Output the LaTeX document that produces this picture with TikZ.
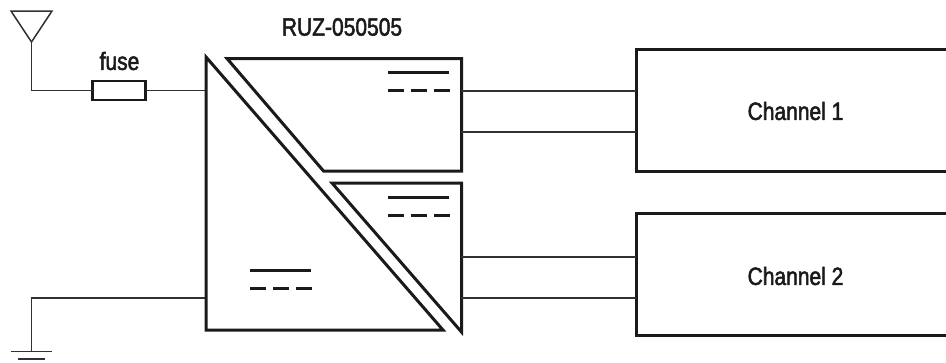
\documentclass[tikz,border=0pt]{standalone}
\usepackage{fontspec}
\setmainfont[FakeStretch=0.84,FakeBold=2]{Liberation Sans}
\definecolor{ink}{HTML}{1A1A1A}
\tikzset{
  thick line/.style={draw=ink,line width=3pt,miter limit=20},
  wire/.style={draw=ink!90!white,line width=1.5pt},
  label/.style={inner sep=0pt,text=ink,font=\fontsize{25}{27}\selectfont},
  bar/.style={draw=ink,line width=3pt},
  dashbar/.style={draw=ink,line width=3pt,dash pattern=on 15.5pt off 7.5pt},
}
\begin{document}
\begin{tikzpicture}[x=1pt,y=-1pt]
\useasboundingbox (0,0) rectangle (946,362);
\clip (0,0) rectangle (946,362);
% named points
\coordinate (antL) at (11,11);
\coordinate (antR) at (52,11);
\coordinate (antT) at (31.5,42);
\coordinate (antC) at (31.5,90.5);
\coordinate (inL) at (206,90.5);
\coordinate (gndL) at (206,298);
\coordinate (gndC) at (31.5,298);
\coordinate (gndT) at (31.5,351.5);
\coordinate (uoutA) at (461,91);
\coordinate (uoutB) at (461,132);
\coordinate (loutA) at (461,257);
\coordinate (loutB) at (461,298);
% fuse
\node[draw=ink,line width=2.2pt,fill=white,outer sep=0pt,minimum width=53pt,minimum height=19.5pt,inner sep=0pt] (fuse) at (119,90.5) {};
\node[label] (fuselabel) at (119.5,61) {fuse};
\node[label] (title) at (342,27) {RUZ-050505};
% channels
\draw[thick line] (1000,49) -- (636,49) -- (636,171) -- (1000,171);
\draw[thick line] (1000,213) -- (636,213) -- (636,335) -- (1000,335);
\coordinate (ch1w) at (636,110);
\coordinate (ch2w) at (636,274);
\node[label] (ch1label) at (795.5,111) {Channel 1};
\node[label] (ch2label) at (795.5,276) {Channel 2};
% antenna
\draw[wire,line join=miter] (antT) -- (antL) -- (antR) -- cycle;
\draw[wire] (antT) -- (antC) -- (fuse.west);
\draw[wire] (fuse.east) -- (inL);
% ground
\draw[wire] (gndL) -- (gndC) -- (gndT);
\coordinate (g1a) at (11,351.5); \coordinate (g1b) at (52,351.5);
\coordinate (g2a) at (18,358.8); \coordinate (g2b) at (45,358.8);
\draw[wire] (g1a) -- (g1b);
\draw[wire] (g2a) -- (g2b);
% converter blocks
\draw[thick line] (206,57) -- (206,330) -- (443,330) -- cycle;
\draw[thick line] (227,58.5) -- (461.5,58.5) -- (461.5,171) -- (323.5,171) -- cycle;
\draw[thick line] (332,183) -- (461.5,183) -- (461.5,332) -- cycle;
% outputs
\draw[wire] (uoutA) -- (uoutA -| ch1w);
\draw[wire] (uoutB) -- (uoutB -| ch1w);
\draw[wire] (loutA) -- (loutA -| ch2w);
\draw[wire] (loutB) -- (loutB -| ch2w);
% DC symbols
\draw[bar] (388,72) -- (449,72);
\draw[dashbar] (388,90) -- (449.5,90);
\draw[bar] (388,197) -- (449,197);
\draw[dashbar] (388,215) -- (449.5,215);
\draw[bar] (250,270) -- (311,270);
\draw[dashbar] (250,288) -- (311.5,288);
\end{tikzpicture}
\end{document}
